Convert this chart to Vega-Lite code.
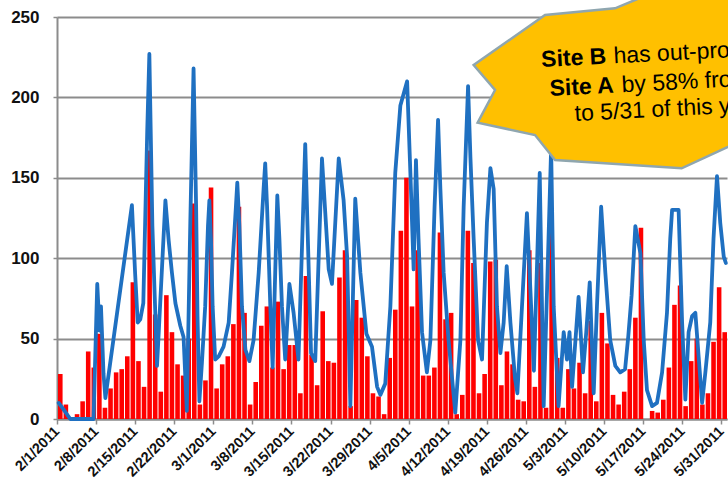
{
  "$schema": "https://vega.github.io/schema/vega-lite/v6.json",
  "width": 670,
  "height": 402,
  "autosize": {"type": "none"},
  "padding": {"left": 57, "top": 17, "right": 1, "bottom": 67},
  "background": "white",
  "config": {"view": {"stroke": null}, "font": "Liberation Sans"},
  "layer": [
    {
      "data": {"values": [
        {"d":"2011-02-01","a":28},{"d":"2011-02-02","a":9},{"d":"2011-02-03","a":0},{"d":"2011-02-04","a":3},{"d":"2011-02-05","a":11},{"d":"2011-02-06","a":42},{"d":"2011-02-07","a":32},{"d":"2011-02-08","a":53},{"d":"2011-02-09","a":7},{"d":"2011-02-10","a":19},
        {"d":"2011-02-11","a":29},{"d":"2011-02-12","a":31},{"d":"2011-02-13","a":39},{"d":"2011-02-14","a":85},{"d":"2011-02-15","a":36},{"d":"2011-02-16","a":20},{"d":"2011-02-17","a":167},{"d":"2011-02-18","a":65},{"d":"2011-02-19","a":17},{"d":"2011-02-20","a":77},
        {"d":"2011-02-21","a":54},{"d":"2011-02-22","a":34},{"d":"2011-02-23","a":27},{"d":"2011-02-24","a":50},{"d":"2011-02-25","a":134},{"d":"2011-02-26","a":9},{"d":"2011-02-27","a":24},{"d":"2011-02-28","a":144},{"d":"2011-03-01","a":19},{"d":"2011-03-02","a":34},
        {"d":"2011-03-03","a":39},{"d":"2011-03-04","a":59},{"d":"2011-03-05","a":132},{"d":"2011-03-06","a":66},{"d":"2011-03-07","a":9},{"d":"2011-03-08","a":23},{"d":"2011-03-09","a":58},{"d":"2011-03-10","a":70},{"d":"2011-03-11","a":32},{"d":"2011-03-12","a":73},
        {"d":"2011-03-13","a":31},{"d":"2011-03-14","a":46},{"d":"2011-03-15","a":46},{"d":"2011-03-16","a":16},{"d":"2011-03-17","a":89},{"d":"2011-03-18","a":40},{"d":"2011-03-19","a":21},{"d":"2011-03-20","a":67},{"d":"2011-03-21","a":36},{"d":"2011-03-22","a":35},
        {"d":"2011-03-23","a":88},{"d":"2011-03-24","a":105},{"d":"2011-03-25","a":8},{"d":"2011-03-26","a":74},{"d":"2011-03-27","a":63},{"d":"2011-03-28","a":39},{"d":"2011-03-29","a":16},{"d":"2011-03-30","a":14},{"d":"2011-03-31","a":3},{"d":"2011-04-01","a":38},
        {"d":"2011-04-02","a":68},{"d":"2011-04-03","a":117},{"d":"2011-04-04","a":150},{"d":"2011-04-05","a":70},{"d":"2011-04-06","a":105},{"d":"2011-04-07","a":27},{"d":"2011-04-08","a":27},{"d":"2011-04-09","a":32},{"d":"2011-04-10","a":116},{"d":"2011-04-11","a":62},
        {"d":"2011-04-12","a":66},{"d":"2011-04-13","a":3},{"d":"2011-04-14","a":15},{"d":"2011-04-15","a":117},{"d":"2011-04-16","a":97},{"d":"2011-04-17","a":16},{"d":"2011-04-18","a":28},{"d":"2011-04-19","a":98},{"d":"2011-04-20","a":99},{"d":"2011-04-21","a":21},
        {"d":"2011-04-22","a":42},{"d":"2011-04-23","a":34},{"d":"2011-04-24","a":12},{"d":"2011-04-25","a":11},{"d":"2011-04-26","a":105},{"d":"2011-04-27","a":20},{"d":"2011-04-28","a":97},{"d":"2011-04-29","a":7},{"d":"2011-04-30","a":117},{"d":"2011-05-01","a":38},
        {"d":"2011-05-02","a":7},{"d":"2011-05-03","a":31},{"d":"2011-05-04","a":19},{"d":"2011-05-05","a":35},{"d":"2011-05-06","a":16},{"d":"2011-05-07","a":61},{"d":"2011-05-08","a":11},{"d":"2011-05-09","a":66},{"d":"2011-05-10","a":47},{"d":"2011-05-11","a":15},
        {"d":"2011-05-12","a":9},{"d":"2011-05-13","a":17},{"d":"2011-05-14","a":31},{"d":"2011-05-15","a":63},{"d":"2011-05-16","a":119},{"d":"2011-05-17","a":0},{"d":"2011-05-18","a":5},{"d":"2011-05-19","a":4},{"d":"2011-05-20","a":12},{"d":"2011-05-21","a":32},
        {"d":"2011-05-22","a":71},{"d":"2011-05-23","a":83},{"d":"2011-05-24","a":8},{"d":"2011-05-25","a":36},{"d":"2011-05-26","a":50},{"d":"2011-05-27","a":9},{"d":"2011-05-28","a":16},{"d":"2011-05-29","a":48},{"d":"2011-05-30","a":82},{"d":"2011-05-31","a":54}
      ]},
      "mark": {"type": "bar", "color": "#FF0000", "timeUnitBandSize": 0.65, "timeUnitBandPosition": 0.175},
      "encoding": {
        "x": {
          "field": "d", "type": "temporal", "timeUnit": "utcyearmonthdate",
          "scale": {"type": "utc", "domain": [{"year": 2011, "month": 2, "date": 1, "utc": true}, {"year": 2011, "month": 6, "date": 1, "utc": true}]},
          "axis": {
            "title": null, "grid": false, "tickCount": 60,
            "values": [
              {"year": 2011, "month": 2, "date": 1, "utc": true},{"year": 2011, "month": 2, "date": 8, "utc": true},{"year": 2011, "month": 2, "date": 15, "utc": true},{"year": 2011, "month": 2, "date": 22, "utc": true},
              {"year": 2011, "month": 3, "date": 1, "utc": true},{"year": 2011, "month": 3, "date": 8, "utc": true},{"year": 2011, "month": 3, "date": 15, "utc": true},{"year": 2011, "month": 3, "date": 22, "utc": true},{"year": 2011, "month": 3, "date": 29, "utc": true},
              {"year": 2011, "month": 4, "date": 5, "utc": true},{"year": 2011, "month": 4, "date": 12, "utc": true},{"year": 2011, "month": 4, "date": 19, "utc": true},{"year": 2011, "month": 4, "date": 26, "utc": true},
              {"year": 2011, "month": 5, "date": 3, "utc": true},{"year": 2011, "month": 5, "date": 10, "utc": true},{"year": 2011, "month": 5, "date": 17, "utc": true},{"year": 2011, "month": 5, "date": 24, "utc": true},{"year": 2011, "month": 5, "date": 31, "utc": true}
            ],
            "labelExpr": "utcFormat(datum.value, '%-m/%-d/%Y')",
            "labelAngle": -45, "labelAlign": "right", "labelBaseline": "middle",
            "labelFont": "Liberation Sans", "labelFontWeight": "bold", "labelFontSize": 14.5, "labelColor": "#111111",
            "labelOverlap": false, "labelFlush": false, "labelBound": false, "labelPadding": 5,
            "domainColor": "#8c8c8c", "domainWidth": 2, "tickColor": "#8c8c8c", "tickWidth": 1.5, "tickSize": 5
          }
        },
        "y": {
          "field": "a", "type": "quantitative",
          "scale": {"domain": [0, 250], "nice": false},
          "axis": {
            "title": null, "values": [0, 50, 100, 150, 200, 250],
            "grid": true, "gridColor": "#8c8c8c", "gridWidth": 2,
            "domainColor": "#8c8c8c", "domainWidth": 2, "tickColor": "#8c8c8c", "tickWidth": 1.5, "tickSize": 4,
            "labelFont": "Liberation Sans", "labelFontWeight": "bold", "labelFontSize": 17, "labelColor": "#111111", "labelPadding": 14
          }
        }
      }
    },
    {
      "data": {"values": [
        {"t":"2011-02-01T07:00Z","b":10},{"t":"2011-02-02T04:00Z","b":6},{"t":"2011-02-03T09:00Z","b":0},{"t":"2011-02-07T13:00Z","b":0},{"t":"2011-02-08T05:00Z","b":84},{"t":"2011-02-08T15:00Z","b":55},{"t":"2011-02-08T21:00Z","b":70},{"t":"2011-02-09T08:00Z","b":28},{"t":"2011-02-09T16:00Z","b":13},
        {"t":"2011-02-14T10:00Z","b":133},{"t":"2011-02-15T00:00Z","b":90},{"t":"2011-02-15T11:00Z","b":60},{"t":"2011-02-15T22:00Z","b":62},{"t":"2011-02-16T11:00Z","b":72},{"t":"2011-02-17T04:00Z","b":180},{"t":"2011-02-17T13:00Z","b":227},{"t":"2011-02-18T02:00Z","b":120},{"t":"2011-02-18T22:00Z","b":33},
        {"t":"2011-02-20T10:00Z","b":136},{"t":"2011-02-21T00:00Z","b":111},{"t":"2011-02-21T14:00Z","b":91},{"t":"2011-02-22T05:00Z","b":72},{"t":"2011-02-23T02:00Z","b":58},{"t":"2011-02-23T16:00Z","b":51},{"t":"2011-02-24T06:00Z","b":5},{"t":"2011-02-24T21:00Z","b":122},{"t":"2011-02-25T11:00Z","b":218},
        {"t":"2011-02-25T22:00Z","b":132},{"t":"2011-02-26T04:00Z","b":64},{"t":"2011-02-26T12:00Z","b":11},{"t":"2011-02-26T23:00Z","b":35},{"t":"2011-02-27T13:00Z","b":70},{"t":"2011-02-28T01:00Z","b":120},{"t":"2011-02-28T07:00Z","b":136},{"t":"2011-02-28T14:00Z","b":111},{"t":"2011-02-28T21:00Z","b":70},
        {"t":"2011-03-01T08:00Z","b":37},{"t":"2011-03-01T23:00Z","b":39},{"t":"2011-03-02T20:00Z","b":45},{"t":"2011-03-03T18:00Z","b":60},{"t":"2011-03-04T08:00Z","b":91},{"t":"2011-03-05T01:00Z","b":132},{"t":"2011-03-05T07:00Z","b":147},{"t":"2011-03-05T16:00Z","b":120},{"t":"2011-03-06T03:00Z","b":70},
        {"t":"2011-03-06T18:00Z","b":43},{"t":"2011-03-07T11:00Z","b":36},{"t":"2011-03-08T05:00Z","b":49},{"t":"2011-03-09T03:00Z","b":91},{"t":"2011-03-10T00:00Z","b":143},{"t":"2011-03-10T07:00Z","b":159},{"t":"2011-03-10T15:00Z","b":132},{"t":"2011-03-11T05:00Z","b":70},{"t":"2011-03-11T15:00Z","b":32},
        {"t":"2011-03-12T02:00Z","b":91},{"t":"2011-03-12T11:00Z","b":139},{"t":"2011-03-12T20:00Z","b":112},{"t":"2011-03-13T07:00Z","b":70},{"t":"2011-03-13T21:00Z","b":37},{"t":"2011-03-14T15:00Z","b":84},{"t":"2011-03-15T09:00Z","b":66},{"t":"2011-03-16T06:00Z","b":37},{"t":"2011-03-17T11:00Z","b":171},
        {"t":"2011-03-18T12:00Z","b":41},{"t":"2011-03-19T06:00Z","b":36},{"t":"2011-03-20T11:00Z","b":162},{"t":"2011-03-21T16:00Z","b":93},{"t":"2011-03-22T06:00Z","b":84},{"t":"2011-03-23T11:00Z","b":162},{"t":"2011-03-24T08:00Z","b":136},{"t":"2011-03-24T23:00Z","b":101},{"t":"2011-03-25T13:00Z","b":8},
        {"t":"2011-03-26T10:00Z","b":137},{"t":"2011-03-27T08:00Z","b":91},{"t":"2011-03-28T10:00Z","b":53},{"t":"2011-03-29T10:00Z","b":45},{"t":"2011-03-30T08:00Z","b":20},{"t":"2011-03-30T22:00Z","b":15},{"t":"2011-03-31T19:00Z","b":22},{"t":"2011-04-01T17:00Z","b":70},{"t":"2011-04-02T14:00Z","b":153},
        {"t":"2011-04-03T12:00Z","b":195},{"t":"2011-04-04T17:00Z","b":210},{"t":"2011-04-05T07:00Z","b":153},{"t":"2011-04-05T21:00Z","b":93},{"t":"2011-04-06T07:00Z","b":161},{"t":"2011-04-06T18:00Z","b":112},{"t":"2011-04-07T09:00Z","b":54},{"t":"2011-04-08T06:00Z","b":29},{"t":"2011-04-08T21:00Z","b":49},
        {"t":"2011-04-09T15:00Z","b":132},{"t":"2011-04-10T06:00Z","b":186},{"t":"2011-04-10T16:00Z","b":143},{"t":"2011-04-11T06:00Z","b":91},{"t":"2011-04-12T03:00Z","b":49},{"t":"2011-04-13T08:00Z","b":4},{"t":"2011-04-14T06:00Z","b":49},{"t":"2011-04-14T20:00Z","b":132},{"t":"2011-04-15T15:00Z","b":207},
        {"t":"2011-04-16T01:00Z","b":163},{"t":"2011-04-16T15:00Z","b":112},{"t":"2011-04-17T10:00Z","b":49},{"t":"2011-04-18T03:00Z","b":37},{"t":"2011-04-19T00:00Z","b":122},{"t":"2011-04-19T15:00Z","b":156},{"t":"2011-04-20T05:00Z","b":143},{"t":"2011-04-20T19:00Z","b":70},{"t":"2011-04-21T10:00Z","b":41},
        {"t":"2011-04-22T00:00Z","b":60},{"t":"2011-04-22T13:00Z","b":95},{"t":"2011-04-23T05:00Z","b":60},{"t":"2011-04-24T01:00Z","b":25},{"t":"2011-04-24T11:00Z","b":16},{"t":"2011-04-26T04:00Z","b":128},{"t":"2011-04-26T22:00Z","b":70},{"t":"2011-04-27T10:00Z","b":30},{"t":"2011-04-28T11:00Z","b":153},
        {"t":"2011-04-29T04:00Z","b":8},{"t":"2011-04-30T12:00Z","b":168},{"t":"2011-04-30T23:00Z","b":70},{"t":"2011-05-01T20:00Z","b":8},{"t":"2011-05-02T18:00Z","b":54},{"t":"2011-05-03T08:00Z","b":37},{"t":"2011-05-03T19:00Z","b":54},{"t":"2011-05-04T06:00Z","b":20},{"t":"2011-05-05T10:00Z","b":76},
        {"t":"2011-05-06T05:00Z","b":29},{"t":"2011-05-06T19:00Z","b":54},{"t":"2011-05-07T10:00Z","b":85},{"t":"2011-05-08T03:00Z","b":16},{"t":"2011-05-08T17:00Z","b":70},{"t":"2011-05-09T11:00Z","b":132},{"t":"2011-05-10T05:00Z","b":91},{"t":"2011-05-11T02:00Z","b":49},{"t":"2011-05-12T00:00Z","b":33},
        {"t":"2011-05-12T21:00Z","b":29},{"t":"2011-05-13T18:00Z","b":31},{"t":"2011-05-14T08:00Z","b":52},{"t":"2011-05-14T22:00Z","b":77},{"t":"2011-05-15T14:00Z","b":120},{"t":"2011-05-16T12:00Z","b":103},{"t":"2011-05-17T02:00Z","b":49},{"t":"2011-05-17T16:00Z","b":18},{"t":"2011-05-18T14:00Z","b":8},
        {"t":"2011-05-19T11:00Z","b":10},{"t":"2011-05-20T09:00Z","b":29},{"t":"2011-05-21T06:00Z","b":66},{"t":"2011-05-21T20:00Z","b":112},{"t":"2011-05-22T04:00Z","b":130},{"t":"2011-05-23T08:00Z","b":130},{"t":"2011-05-23T23:00Z","b":60},{"t":"2011-05-24T13:00Z","b":12},{"t":"2011-05-25T03:00Z","b":54},
        {"t":"2011-05-25T18:00Z","b":64},{"t":"2011-05-26T08:00Z","b":66},{"t":"2011-05-26T22:00Z","b":39},{"t":"2011-05-27T13:00Z","b":10},{"t":"2011-05-28T03:00Z","b":29},{"t":"2011-05-29T00:00Z","b":60},{"t":"2011-05-29T14:00Z","b":112},{"t":"2011-05-30T05:00Z","b":151},{"t":"2011-05-30T19:00Z","b":122},
        {"t":"2011-05-31T10:00Z","b":101},{"t":"2011-05-31T19:00Z","b":97}
      ]},
      "mark": {"type": "line", "color": "#1f70c1", "strokeWidth": 3.8, "strokeJoin": "round", "strokeCap": "round"},
      "encoding": {
        "x": {"field": "t", "type": "temporal", "scale": {"type": "utc", "domain": [{"year": 2011, "month": 2, "date": 1, "utc": true}, {"year": 2011, "month": 6, "date": 1, "utc": true}]}},
        "y": {"field": "b", "type": "quantitative"}
      }
    },
    {
      "data": {"values": [{"t": "2011-05-18T06:30Z", "v": 207.7}]},
      "mark": {
        "type": "point", "filled": true, "opacity": 1, "size": 160000,
        "shape": "M0.05,-0.4775L0.65,-0.55L0.65,0.325L0.475,0.269L0.1565,0.4165L-0.4765,0.375L-0.5765,0.25L-0.8635,0.1885L-0.7765,0.025L-0.8835,-0.1L-0.5265,-0.35L-0.1765,-0.3835Z",
        "fill": "#FFC000", "stroke": "#8FA6AF", "strokeWidth": 2.5
      },
      "encoding": {
        "x": {"field": "t", "type": "temporal", "scale": {"type": "utc", "domain": [{"year": 2011, "month": 2, "date": 1, "utc": true}, {"year": 2011, "month": 6, "date": 1, "utc": true}]}},
        "y": {"field": "v", "type": "quantitative"}
      }
    },
    {
      "data": {"values": [
        {"t": "2011-04-28T19:00Z", "v": 218.9, "txt": "Site B"},
        {"t": "2011-04-30T07:00Z", "v": 200.9, "txt": "Site A"}
      ]},
      "mark": {"type": "text", "font": "Liberation Sans", "fontWeight": "bold", "fontSize": 23, "angle": -3, "align": "left", "baseline": "alphabetic", "color": "#000000"},
      "encoding": {
        "x": {"field": "t", "type": "temporal", "scale": {"type": "utc", "domain": [{"year": 2011, "month": 2, "date": 1, "utc": true}, {"year": 2011, "month": 6, "date": 1, "utc": true}]}},
        "y": {"field": "v", "type": "quantitative"},
        "text": {"field": "txt"}
      }
    },
    {
      "data": {"values": [
        {"t": "2011-05-11T18:00Z", "v": 221.2, "txt": "has out-produced"},
        {"t": "2011-05-13T05:00Z", "v": 203.2, "txt": "by 58% from 2/1"},
        {"t": "2011-05-04T19:00Z", "v": 185.3, "txt": "to 5/31 of this year"}
      ]},
      "mark": {"type": "text", "font": "Liberation Sans", "fontSize": 23, "angle": -3, "align": "left", "baseline": "alphabetic", "color": "#000000"},
      "encoding": {
        "x": {"field": "t", "type": "temporal", "scale": {"type": "utc", "domain": [{"year": 2011, "month": 2, "date": 1, "utc": true}, {"year": 2011, "month": 6, "date": 1, "utc": true}]}},
        "y": {"field": "v", "type": "quantitative"},
        "text": {"field": "txt"}
      }
    }
  ]
}
